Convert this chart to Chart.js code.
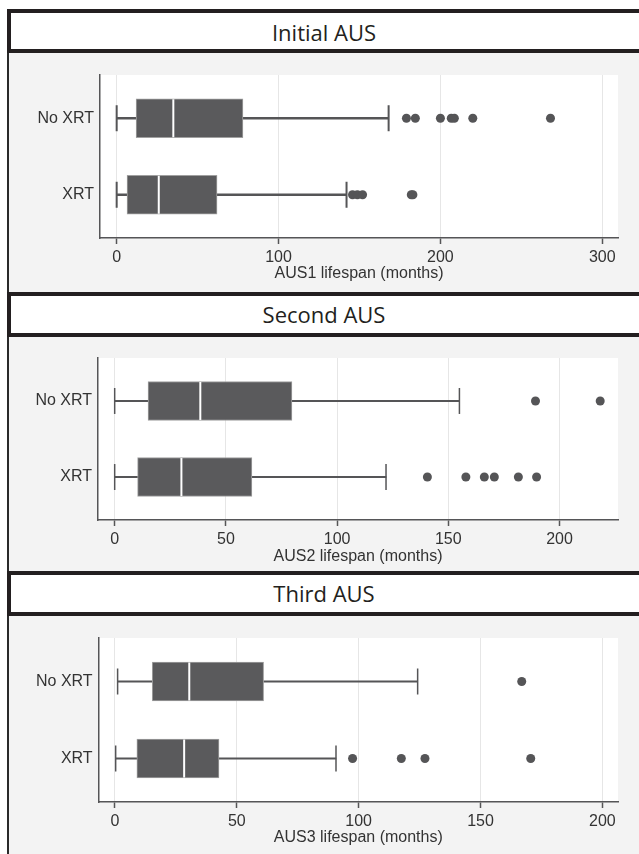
<!DOCTYPE html>
<html>
<head>
<meta charset="utf-8">
<script src="https://cdn.jsdelivr.net/npm/chart.js@4.4.1/dist/chart.umd.min.js"></script>
<style>
  html, body { margin: 0; padding: 0; background: #ffffff; }
  body { width: 639px; height: 854px; position: relative; overflow: hidden; }
  .panel { position: absolute; left: 7px; width: 660px; background: #f3f3f3; border-left: 2px solid #2a2a2a; box-sizing: border-box; }
  .tbar { position: absolute; left: 7px; width: 660px; background: #ffffff; border: 4px solid #231f20; box-sizing: border-box; }
  .ttext { position: absolute; left: 0; width: 648px; text-align: center; font-family: 'Open Sans', 'Noto Sans', sans-serif; font-size: 22px; color: #231f20; }
  canvas { position: absolute; left: 0; }
</style>
</head>
<body>
<div class="panel" style="top:53px;height:239px"></div>
<div class="panel" style="top:337px;height:234px"></div>
<div class="panel" style="top:616px;height:238px"></div>
<div class="tbar" style="top:9px;height:44px"></div>
<div class="tbar" style="top:292px;height:45px"></div>
<div class="tbar" style="top:571px;height:45px"></div>
<div class="ttext" id="t1" style="top:9px;height:44px;line-height:46px"></div>
<div class="ttext" id="t2" style="top:292px;height:45px;line-height:45px"></div>
<div class="ttext" id="t3" style="top:571px;height:45px;line-height:45px"></div>
<canvas id="c1" width="639" height="239" style="top:53px"></canvas>
<canvas id="c2" width="639" height="234" style="top:337px"></canvas>
<canvas id="c3" width="639" height="238" style="top:616px"></canvas>
<script>
// ---- Data (box stats: [lower whisker, Q1, median, Q3, upper whisker]) ----
const categories = ['No XRT', 'XRT'];
const panelTitles = ['Initial AUS', 'Second AUS', 'Third AUS'];
const axisTitles = ['AUS1 lifespan (months)', 'AUS2 lifespan (months)', 'AUS3 lifespan (months)'];

const aus1NoXrt = [0, 12, 35, 78, 168];
const aus1Xrt = [0, 6.4, 26, 62, 142];
const aus1NoXrtOutliers = [179, 184.5, 200, 206.7, 208.6, 220, 268];
const aus1XrtOutliers = [145.7, 148.7, 151.9, 182, 183];
const aus1Ticks = [0, 100, 200, 300];

const aus2NoXrt = [0, 15, 38.5, 79.7, 155];
const aus2Xrt = [0, 10.3, 30, 61.7, 122];
const aus2NoXrtOutliers = [189.2, 218.3];
const aus2XrtOutliers = [140.6, 157.9, 166.2, 170.7, 181.5, 189.7];
const aus2Ticks = [0, 50, 100, 150, 200];

const aus3NoXrt = [1.1, 15.3, 30.5, 61, 124.2];
const aus3Xrt = [0.3, 9, 28.4, 42.7, 90.7];
const aus3NoXrtOutliers = [166.9];
const aus3XrtOutliers = [97.5, 117.5, 127.2, 170.6];
const aus3Ticks = [0, 50, 100, 150, 200];

Chart.defaults.font.family = "'Liberation Sans', Arial, sans-serif";
Chart.defaults.font.size = 16;
Chart.defaults.color = '#333333';

const plotBg = {
  id: 'plotBg',
  beforeDraw(chart) {
    const a = chart.chartArea, ctx = chart.ctx;
    ctx.save();
    ctx.fillStyle = '#ffffff';
    ctx.fillRect(a.left, a.top, a.right - a.left, a.bottom - a.top);
    ctx.restore();
  }
};

function makeChart(id, groups, outlierGroups, ticks, xmin, xmax, axisTitle, cfg) {
  const whiskers = [], caps = [], boxes = [], medians = [], outs = [];
  groups.forEach((g, i) => {
    whiskers.push({ y: i, x: [g[0], g[4]] });
    caps.push({ x: g[0], y: i }, { x: g[4], y: i });
    boxes.push({ y: i, x: [g[1], g[3]] });
    medians.push({ x: g[2], y: i });
    outlierGroups[i].forEach(v => outs.push({ x: v, y: i }));
  });
  return new Chart(document.getElementById(id), {
    type: 'bar',
    data: {
      datasets: [
        { type: 'bar', indexAxis: 'y', grouped: false, data: whiskers, backgroundColor: '#555557',
          borderWidth: 0, barThickness: cfg.lw, order: 5 },
        { type: 'scatter', data: caps, pointStyle: 'line', rotation: 90, radius: 13,
          borderColor: '#555557', borderWidth: cfg.lw, order: 4 },
        { type: 'bar', indexAxis: 'y', grouped: false, data: boxes, backgroundColor: '#5a5a5c',
          borderColor: '#a0a0a0', borderWidth: 1, borderSkipped: false, barThickness: 39, order: 3 },
        { type: 'scatter', data: medians, pointStyle: 'line', rotation: 90, radius: 19,
          borderColor: '#ffffff', borderWidth: 2, order: 2 },
        { type: 'scatter', data: outs, pointStyle: 'circle', radius: 4.5,
          backgroundColor: '#555557', borderWidth: 0, order: 1 }
      ]
    },
    options: {
      responsive: false,
      animation: false,
      devicePixelRatio: 1,
      indexAxis: 'y',
      layout: { padding: { left: 0, right: 11, top: cfg.top, bottom: 0 } },
      plugins: { legend: { display: false }, tooltip: { enabled: false } },
      scales: {
        x: {
          type: 'linear', min: xmin, max: xmax, offset: false,
          afterBuildTicks: s => { s.ticks = ticks.map(v => ({ value: v })); },
          afterFit: s => { s.height = cfg.xh; },
          grid: { offset: false, color: '#e6e6e6', lineWidth: 1, drawTicks: true, tickLength: 6, tickColor: '#555557', tickWidth: 1.5 },
          border: { display: true, color: '#555557', width: 1.5 },
          ticks: { autoSkip: false, padding: 4, maxRotation: 0, color: '#333333' },
          title: { display: true, text: axisTitle, color: '#333333', padding: { top: 0, bottom: cfg.tpb } }
        },
        y: {
          type: 'linear', min: -0.565, max: 1.565, reverse: true, offset: false,
          afterBuildTicks: s => { s.ticks = categories.map((c, i) => ({ value: i })); },
          afterFit: s => { s.width = cfg.left; },
          grid: { display: false, drawTicks: false, offset: false },
          border: { display: true, color: '#555557', width: 1.5 },
          ticks: { padding: 6, color: '#333333', callback: v => categories[v] }
        }
      }
    },
    plugins: [plotBg]
  });
}

document.getElementById('t1').textContent = panelTitles[0];
document.getElementById('t2').textContent = panelTitles[1];
document.getElementById('t3').textContent = panelTitles[2];

makeChart('c1', [aus1NoXrt, aus1Xrt], [aus1NoXrtOutliers, aus1XrtOutliers], aus1Ticks, -10.3, 309.7, axisTitles[0],
  { top: 22, xh: 54, tpb: 8.4, left: 100, lw: 2 });
makeChart('c2', [aus2NoXrt, aus2Xrt], [aus2NoXrtOutliers, aus2XrtOutliers], aus2Ticks, -7.5, 226.3, axisTitles[1],
  { top: 18, xh: 51, tpb: 4.4, left: 98, lw: 1.5 });
makeChart('c3', [aus3NoXrt, aus3Xrt], [aus3NoXrtOutliers, aus3XrtOutliers], aus3Ticks, -6.7, 206.4, axisTitles[2],
  { top: 22, xh: 52, tpb: 6.4, left: 98.6, lw: 1.5 });
</script>
</body>
</html>
